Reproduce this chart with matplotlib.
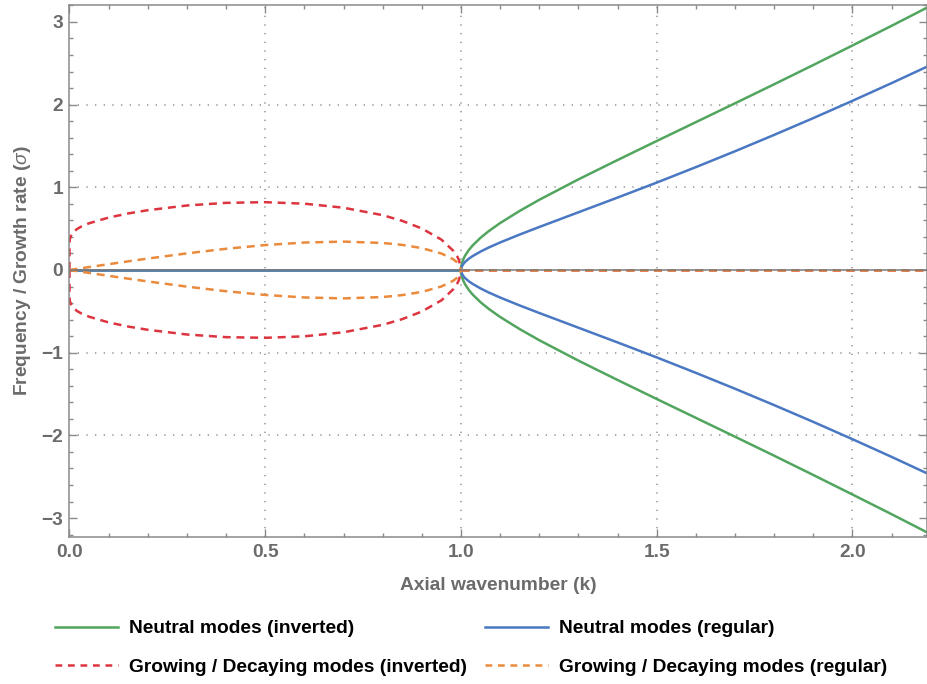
import matplotlib
matplotlib.use('Agg')
import matplotlib.pyplot as plt
from matplotlib.lines import Line2D
from matplotlib.ticker import MultipleLocator, FormatStrFormatter

plt.rcParams['font.family'] = ['Liberation Sans', 'DejaVu Sans']
plt.rcParams['mathtext.fontset'] = 'custom'
plt.rcParams['mathtext.it'] = 'Liberation Sans:italic'
plt.rcParams['mathtext.rm'] = 'Liberation Sans'
plt.rcParams['axes.unicode_minus'] = True

# ---------------- data ----------------
# neutral (oscillating) branch, k > 1
k_neutral = [1.0, 1.001, 1.005, 1.01, 1.02, 1.03, 1.05, 1.07, 1.1, 1.15, 1.2,
             1.3, 1.4, 1.5, 1.6, 1.7, 1.8, 1.9, 2.0, 2.1, 2.2]
sigma_neutral_inverted = [0.0, 0.054, 0.120, 0.170, 0.242, 0.298, 0.390, 0.467,
                          0.568, 0.715, 0.849, 1.096, 1.330, 1.560, 1.788, 2.016,
                          2.246, 2.479, 2.715, 2.953, 3.196]
sigma_neutral_regular = [0.0, 0.030, 0.067, 0.096, 0.137, 0.169, 0.223, 0.270,
                         0.333, 0.429, 0.520, 0.698, 0.876, 1.057, 1.244, 1.436,
                         1.634, 1.837, 2.046, 2.260, 2.480]

# growing / decaying branch, k < 1
k_unstable = [0.0, 1e-6, 1e-4, 0.001, 0.005, 0.01, 0.02, 0.03, 0.05, 0.1, 0.15,
              0.2, 0.3, 0.4, 0.5, 0.6, 0.7, 0.8, 0.85, 0.9, 0.95, 0.98, 0.99,
              0.995, 1.0]
sigma_growth_inverted = [0.0, 0.268, 0.327, 0.377, 0.430, 0.460, 0.498, 0.525,
                         0.565, 0.634, 0.684, 0.723, 0.780, 0.812, 0.820, 0.802,
                         0.753, 0.663, 0.594, 0.502, 0.367, 0.234, 0.167, 0.119, 0.0]
sigma_growth_regular = [0.0, 0.0, 0.0001, 0.0007, 0.0035, 0.0071, 0.0141, 0.0212,
                        0.0353, 0.0703, 0.1047, 0.1382, 0.2012, 0.2567, 0.3016,
                        0.3321, 0.3433, 0.3269, 0.3036, 0.2647, 0.1992, 0.1306,
                        0.0934, 0.0663, 0.0]

# zero-valued parts of each branch
k_zero_low = [0.0, 1.0]
k_zero_high = [1.0, 2.2]
zero_pair = [0.0, 0.0]

x_ticks = [0.0, 0.5, 1.0, 1.5, 2.0]
y_ticks = [-3, -2, -1, 0, 1, 2, 3]
grid_x = [0.5, 1.0, 1.5, 2.0]
grid_y = [-2, -1, 1, 2]

labels = ['Neutral modes (inverted)', 'Growing / Decaying modes (inverted)',
          'Neutral modes (regular)', 'Growing / Decaying modes (regular)']

# ---------------- style ----------------
GREEN = '#52a55e'
BLUE = '#4a78c2'
RED = '#dc3540'
ORANGE = '#ea8a3c'
TEXT = '#6b6b6b'
FRAME = '#8a8a8a'
GRID = '#9a9a9a'
LW = 1.8
DASH = (0, (3.2, 2.3))

W, H = 928, 684
fig = plt.figure(figsize=(W / 100, H / 100), dpi=100)
left, right, top, bottom = 69.5, 927.0, 4.7, 536.7
ax = fig.add_axes([left / W, 1 - bottom / H, (right - left) / W, (bottom - top) / H])

# grid
for gx in grid_x:
    ax.axvline(gx, color=GRID, lw=1.2, ls=(0, (0.8, 4.4)), zorder=0)
for gy in grid_y:
    ax.axhline(gy, color=GRID, lw=1.2, ls=(0, (0.8, 4.4)), zorder=0)

# curves
neg = lambda a: [-v for v in a]
ax.plot(k_neutral, sigma_neutral_inverted, color=GREEN, lw=LW, zorder=2)
ax.plot(k_neutral, neg(sigma_neutral_inverted), color=GREEN, lw=LW, zorder=2)
ax.plot(k_zero_low, zero_pair, color=GREEN, lw=LW, zorder=2)
ax.plot(k_neutral, sigma_neutral_regular, color=BLUE, lw=LW, zorder=2.1)
ax.plot(k_neutral, neg(sigma_neutral_regular), color=BLUE, lw=LW, zorder=2.1)
ax.plot(k_zero_low, zero_pair, color=BLUE, lw=LW, zorder=2.1)

ax.plot(k_unstable, sigma_growth_inverted, color=RED, lw=LW, ls=DASH, zorder=2.2)
ax.plot(k_unstable, neg(sigma_growth_inverted), color=RED, lw=LW, ls=DASH, zorder=2.2)
ax.plot(k_zero_high, zero_pair, color=RED, lw=LW, ls=DASH, zorder=2.2)
ax.plot(k_unstable, sigma_growth_regular, color=ORANGE, lw=LW, ls=DASH, zorder=2.3)
ax.plot(k_unstable, neg(sigma_growth_regular), color=ORANGE, lw=LW, ls=DASH, zorder=2.3)
ax.plot(k_zero_high, zero_pair, color=ORANGE, lw=LW, ls=DASH, zorder=2.3)

ax.axhline(0, color='#7a7a7a', lw=1.1, zorder=3)

ax.set_xlim(0, (right - left) / 391.5)
ax.set_ylim(-(bottom - 270) / 82.7, (270 - top) / 82.7)

# ticks / frame
ax.set_xticks(x_ticks)
ax.set_yticks(y_ticks)
ax.xaxis.set_major_formatter(FormatStrFormatter('%.1f'))
ax.xaxis.set_minor_locator(MultipleLocator(0.1))
ax.yaxis.set_minor_locator(MultipleLocator(0.2))
ax.tick_params(which='both', direction='in', top=True, right=True,
               color=FRAME, labelcolor=TEXT, width=1.0)
ax.tick_params(which='major', length=5.8)
ax.tick_params(which='minor', length=3.0)
ax.tick_params(axis='x', pad=5)
ax.tick_params(axis='y', pad=4.5)
for lab in ax.get_xticklabels() + ax.get_yticklabels():
    lab.set_fontsize(13.8)
    lab.set_fontweight('bold')
for sp in ax.spines.values():
    sp.set_color(FRAME)
    sp.set_linewidth(1.1)

ax.set_xlabel('Axial wavenumber (k)', fontsize=13.8, fontweight='bold', color=TEXT)
ax.xaxis.set_label_coords(0.5, -0.0755)
ax.set_ylabel('Frequency / Growth rate ($\\sigma$)', fontsize=13.8,
              fontweight='bold', color=TEXT)
ax.yaxis.set_label_coords(-0.043, 0.5)

# legend
handles = [Line2D([], [], color=GREEN, lw=LW),
           Line2D([], [], color=RED, lw=LW, ls=(0, (2.7, 2.3))),
           Line2D([], [], color=BLUE, lw=LW),
           Line2D([], [], color=ORANGE, lw=LW, ls=(0, (2.7, 2.3)))]
FS = 13.8
fs_px = FS * 100 / 72
hl_px, pad_px = 63, 11
col2_x = 485


def make_legend(colspace):
    return fig.legend(handles, labels, ncol=2, loc='upper left',
                      bbox_to_anchor=(55 / W, 1 - 620 / H), frameon=False,
                      prop={'size': FS, 'weight': 'bold'},
                      handlelength=hl_px / fs_px, handletextpad=pad_px / fs_px,
                      columnspacing=colspace, labelspacing=1.1,
                      borderpad=0, borderaxespad=0)


leg = make_legend(1.0)
fig.canvas.draw()
r = fig.canvas.get_renderer()
w1 = max(t.get_window_extent(r).width for t in leg.get_texts()[:2])
leg.remove()
cs = (col2_x - (55 + hl_px + pad_px + w1)) / fs_px
leg = make_legend(cs)
for t in leg.get_texts():
    t.set_color('black')

fig.savefig('out.png', dpi=100)
